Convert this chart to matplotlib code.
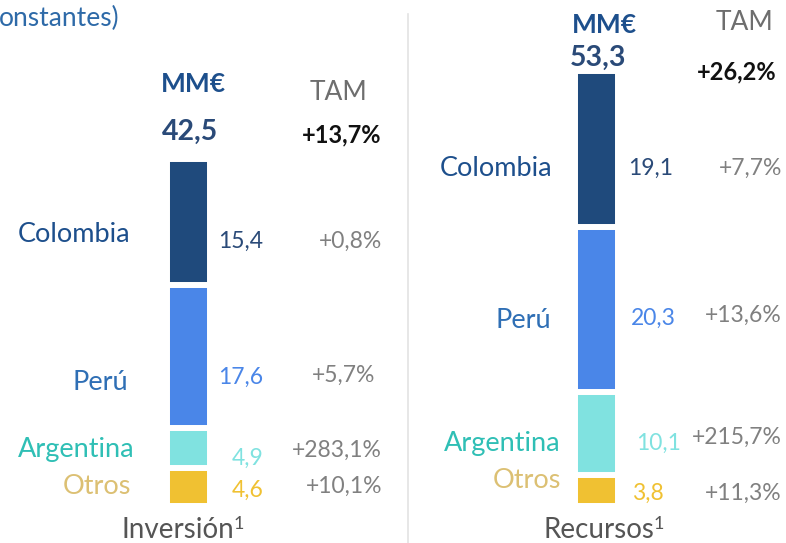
import numpy as np
import matplotlib.pyplot as plt

plt.rcParams['font.family'] = ['Lato', 'DejaVu Sans']

# stacked from bottom to top
regions = ['Otros', 'Argentina', 'Perú', 'Colombia']
inversion = [4.6, 4.9, 17.6, 15.4]
recursos = [3.8, 10.1, 20.3, 19.1]
tam_inversion = ['+10,1%', '+283,1%', '+5,7%', '+0,8%']
tam_recursos = ['+11,3%', '+215,7%', '+13,6%', '+7,7%']
total_inversion = '42,5'
total_recursos = '53,3'
tam_total_inversion = '+13,7%'
tam_total_recursos = '+26,2%'

bar_colors = ['#f0c132', '#80e2e0', '#4a86e8', '#1f4a7c']
name_colors = ['#dcc073', '#2fbfb5', '#2f6fb5', '#1d4f8c']
value_colors = ['#f0c132', '#80e2e0', '#4a86e8', '#2a4a78']
gray = '#808080'

# x in pixels, y in value units; zero sits at pixel row 506
SCALE = 8.17
ZERO = 506


def ypx(p):
    return (ZERO - p) / SCALE


fig = plt.figure(figsize=(7.86, 5.43), dpi=100)
ax = fig.add_axes([0, 0, 1, 1])
ax.set_xlim(0, 786)
ax.set_ylim(ypx(543), ypx(0))
ax.axis('off')


def panel(values, tam, total, tam_total, xbar, name_pos, val_pos, tam_pos,
          head_y, title, title_x):
    bottoms = np.concatenate([[0], np.cumsum(values)[:-1]])
    ax.bar(xbar, values, bottom=bottoms, width=43, color=bar_colors,
           edgecolor='white', linewidth=4.3)
    for i in range(len(values)):
        nx, ny = name_pos[i]
        ax.text(nx, ypx(ny), regions[i], ha='right', va='center',
                fontsize=19.5, color=name_colors[i])
        vx, vy = val_pos[i]
        ax.text(vx, ypx(vy), f'{values[i]:.1f}'.replace('.', ','),
                ha='left', va='center', fontsize=16.5, color=value_colors[i])
        tx, ty = tam_pos[i]
        ax.text(tx, ypx(ty), tam[i], ha='right', va='center', fontsize=16.5,
                color=gray)
    mm_y, tam_y, tot_y, tt_y, mm_x, tam_x, tot_x, tt_x = head_y
    ax.text(mm_x, ypx(mm_y), 'MM€', ha='center', va='center', fontsize=19,
            fontweight='bold', color='#1d4f8c')
    ax.text(tam_x, ypx(tam_y), 'TAM', ha='center', va='center', fontsize=19,
            color='#6e6e6e')
    ax.text(tot_x, ypx(tot_y), total, ha='center', va='center', fontsize=20.5,
            fontweight='bold', color='#2a4a78')
    ax.text(tt_x, ypx(tt_y), tam_total, ha='center', va='center',
            fontsize=17, fontweight='bold', color='#111111')
    t = ax.text(title_x, ypx(530), title, ha='center', va='center',
                fontsize=20, color='#555555')
    # raised footnote marker after the title
    fig.canvas.draw()
    x_end = ax.transData.inverted().transform(t.get_window_extent())[1, 0]
    ax.text(x_end - 1, ypx(524), '1', ha='left', va='center', fontsize=13,
            color='#555555')


panel(inversion, tam_inversion, total_inversion, tam_total_inversion,
      188.5,
      name_pos=[(131, 487), (135, 450), (128, 382), (130, 234)],
      val_pos=[(232, 490), (232, 458), (218, 377), (218, 241)],
      tam_pos=[(382, 486), (382, 450), (375, 375), (382, 241)],
      head_y=(84, 92, 132, 135, 193, 338, 190, 342),
      title='Inversión', title_x=178)

panel(recursos, tam_recursos, total_recursos, tam_total_recursos,
      596.5,
      name_pos=[(561, 480), (561, 443), (551, 321), (552, 169)],
      val_pos=[(632, 493), (636, 443), (631, 318), (628, 168)],
      tam_pos=[(782, 493), (782, 437), (782, 315), (782, 168)],
      head_y=(25, 22, 58, 72, 604, 745, 598, 737),
      title='Recursos', title_x=599)

# divider between panels
ax.plot([408, 408], [ypx(14), ypx(543)], color='#e3e3e3', linewidth=1.2)

ax.text(-1, ypx(18), 'onstantes)', ha='left', va='center', fontsize=19,
        color='#2e6aa8')

fig.savefig('out.png', dpi=100)
